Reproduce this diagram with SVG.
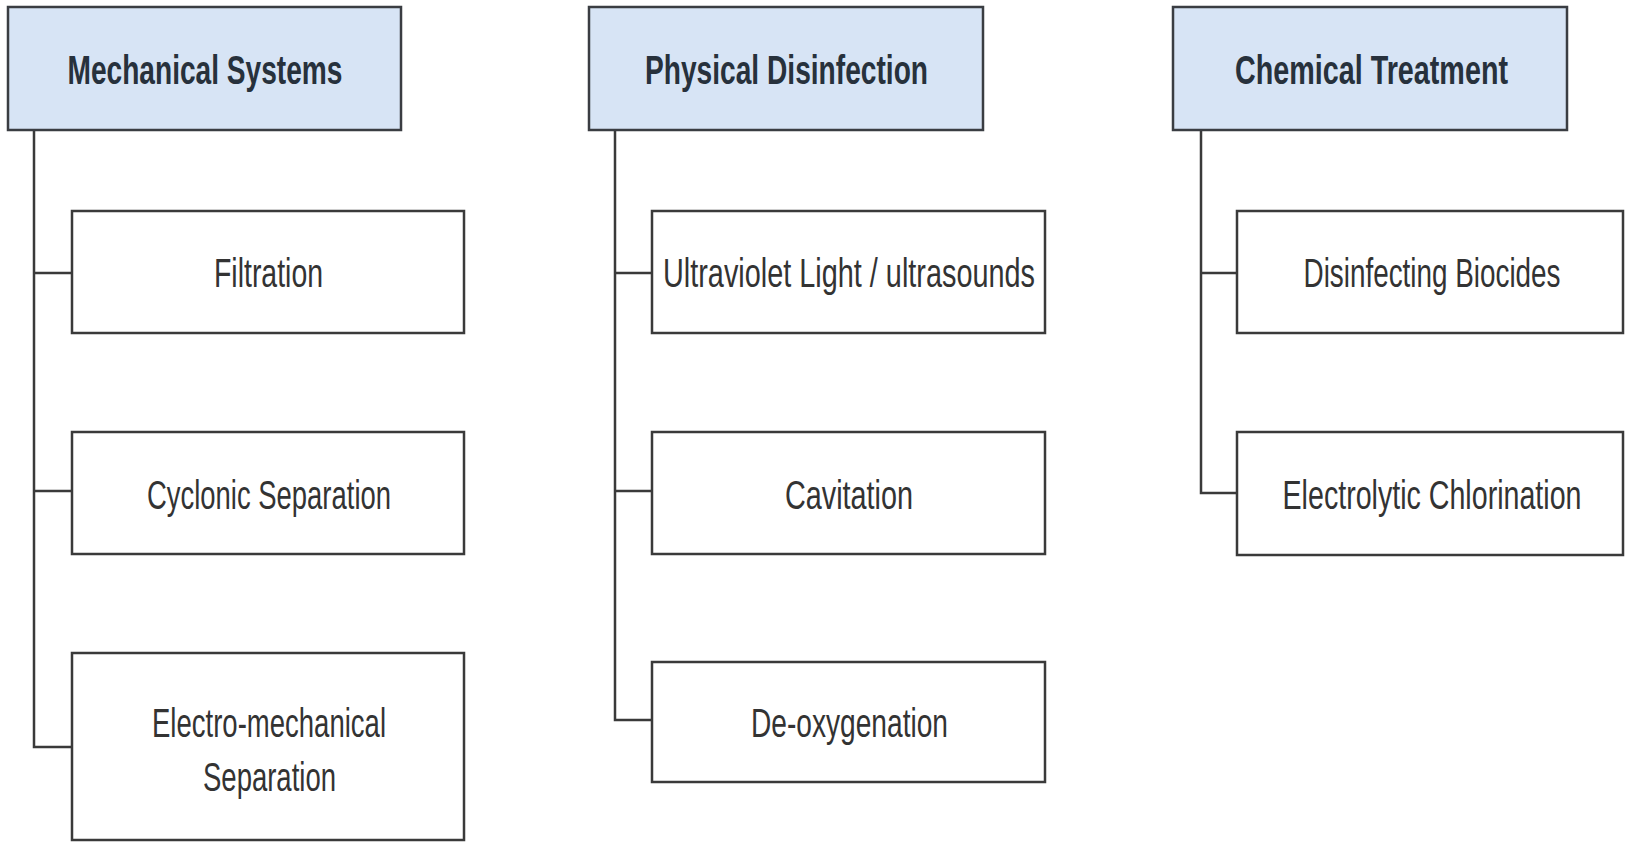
<svg xmlns="http://www.w3.org/2000/svg" width="1629" height="842" viewBox="0 0 1629 842">
<style>
.hdr rect{fill:#d7e4f5;stroke:#3a3d42;stroke-width:2.5}
.box rect{fill:#ffffff;stroke:#3a3a3a;stroke-width:2.5}
.hdr text{font-family:"Liberation Sans",Arial,sans-serif;font-weight:bold;font-size:40px;fill:#27313c;text-anchor:middle}
.box text{font-family:"Liberation Sans",Arial,sans-serif;font-size:40px;fill:#333333;text-anchor:middle}
#connectors path{fill:none;stroke:#3a3a3a;stroke-width:2.5}
</style>
<rect width="1629" height="842" fill="#ffffff"/>
<g id="connectors">
<path d="M34 130 V747 H72 M34 273 H72 M34 491 H72"/>
<path d="M615 130 V720 H652 M615 273 H652 M615 491 H652"/>
<path d="M1201 130 V493 H1237 M1201 273 H1237"/>
</g>
<g id="mechanical" class="hdr"><rect x="8" y="7" width="393" height="123"/><text x="205" y="84" textLength="275" lengthAdjust="spacingAndGlyphs">Mechanical Systems</text></g>
<g id="physical" class="hdr"><rect x="589" y="7" width="394" height="123"/><text x="786.5" y="84" textLength="283" lengthAdjust="spacingAndGlyphs">Physical Disinfection</text></g>
<g id="chemical" class="hdr"><rect x="1173" y="7" width="394" height="123"/><text x="1371.5" y="84" textLength="273" lengthAdjust="spacingAndGlyphs">Chemical Treatment</text></g>
<g id="filtration" class="box"><rect x="72" y="211" width="392" height="122"/><text x="268.5" y="287" textLength="109" lengthAdjust="spacingAndGlyphs">Filtration</text></g>
<g id="cyclonic" class="box"><rect x="72" y="432" width="392" height="122"/><text x="269" y="509" textLength="244" lengthAdjust="spacingAndGlyphs">Cyclonic Separation</text></g>
<g id="electromech" class="box"><rect x="72" y="653" width="392" height="187"/><text x="269" y="737" textLength="234" lengthAdjust="spacingAndGlyphs">Electro-mechanical</text><text x="269.5" y="791" textLength="133" lengthAdjust="spacingAndGlyphs">Separation</text></g>
<g id="uv" class="box"><rect x="652" y="211" width="393" height="122"/><text x="849" y="287" textLength="372" lengthAdjust="spacingAndGlyphs">Ultraviolet Light / ultrasounds</text></g>
<g id="cavitation" class="box"><rect x="652" y="432" width="393" height="122"/><text x="849" y="509" textLength="128" lengthAdjust="spacingAndGlyphs">Cavitation</text></g>
<g id="deoxygenation" class="box"><rect x="652" y="662" width="393" height="120"/><text x="849.5" y="737" textLength="197" lengthAdjust="spacingAndGlyphs">De-oxygenation</text></g>
<g id="biocides" class="box"><rect x="1237" y="211" width="386" height="122"/><text transform="translate(1432 287) scale(0.6965 1)" x="0" y="0">Disinfecting Biocides</text></g>
<g id="electrolytic" class="box"><rect x="1237" y="432" width="386" height="123"/><text transform="translate(1432 509) scale(0.7155 1)" x="0" y="0">Electrolytic Chlorination</text></g>
</svg>
